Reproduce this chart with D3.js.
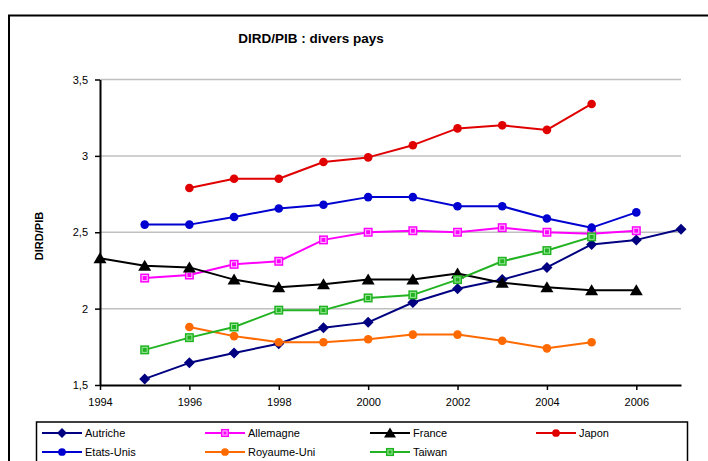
<!DOCTYPE html>
<html>
<head>
<meta charset="utf-8">
<script src="https://cdn.jsdelivr.net/npm/d3@7"></script>
<style>
  body { margin: 0; background: #fff; }
  text { font-family: "Liberation Sans", Arial, sans-serif; }
</style>
</head>
<body>
<div id="chart"></div>
<script>
// annees 1994 -> 2007, null = pas de valeur
var years = [1994, 1995, 1996, 1997, 1998, 1999, 2000, 2001, 2002, 2003, 2004, 2005, 2006, 2007];
var autriche   = [null, 1.54, 1.645, 1.71, 1.77, 1.875, 1.91, 2.04, 2.13, 2.19, 2.27, 2.42, 2.45, 2.52];
var allemagne  = [null, 2.20, 2.22, 2.29, 2.31, 2.45, 2.50, 2.51, 2.50, 2.53, 2.50, 2.49, 2.51, null];
var france     = [2.33, 2.28, 2.27, 2.19, 2.14, 2.16, 2.19, 2.19, 2.23, 2.17, 2.14, 2.12, 2.12, null];
var japon      = [null, null, 2.79, 2.85, 2.85, 2.96, 2.99, 3.07, 3.18, 3.20, 3.17, 3.34, null, null];
var etatsUnis  = [null, 2.55, 2.55, 2.60, 2.655, 2.68, 2.73, 2.73, 2.67, 2.67, 2.59, 2.53, 2.63, null];
var royaumeUni = [null, null, 1.88, 1.82, 1.78, 1.78, 1.80, 1.83, 1.83, 1.79, 1.74, 1.78, null, null];
var taiwan     = [null, 1.73, 1.81, 1.88, 1.99, 1.99, 2.07, 2.09, 2.19, 2.31, 2.38, 2.47, null, null];

var yTicks = [1.5, 2, 2.5, 3, 3.5];
var xTicks = [1994, 1996, 1998, 2000, 2002, 2004, 2006];

var series = [
  {name: "Autriche",    values: autriche,   color: "#000080", marker: "diamond"},
  {name: "Allemagne",   values: allemagne,  color: "#ff00ff", marker: "square", light: "#ffc8ff"},
  {name: "France",      values: france,     color: "#000000", marker: "triangle"},
  {name: "Japon",       values: japon,      color: "#e00000", marker: "circle"},
  {name: "Etats-Unis",  values: etatsUnis,  color: "#0000d0", marker: "circle"},
  {name: "Royaume-Uni", values: royaumeUni, color: "#ff6a00", marker: "circle"},
  {name: "Taiwan",      values: taiwan,     color: "#22b322", marker: "square", light: "#9be89b"}
];

var width = 708, height = 461;

var x = d3.scaleLinear().domain([1994, 2007]).range([100, 681]);
var y = d3.scaleLinear().domain([1.5, 3.5]).range([385, 79.5]);

var svg = d3.select("#chart").append("svg")
    .attr("width", width)
    .attr("height", height);

// cadre exterieur
svg.append("rect")
    .attr("x", 9).attr("y", 15.5)
    .attr("width", 740).attr("height", 500)
    .attr("fill", "none")
    .attr("stroke", "#000")
    .attr("stroke-width", 2);

svg.append("text")
    .attr("x", 311).attr("y", 43)
    .attr("text-anchor", "middle")
    .attr("font-size", 13.5)
    .attr("font-weight", "bold")
    .text("DIRD/PIB : divers pays");

// grille
svg.append("g").selectAll("line")
    .data(yTicks.filter(function(d) { return d > 1.5; }))
    .enter().append("line")
    .attr("x1", x(1994)).attr("x2", x(2007))
    .attr("y1", function(d) { return y(d); })
    .attr("y2", function(d) { return y(d); })
    .attr("stroke", "#c0c0c0")
    .attr("stroke-width", 1.5);

var yAxis = d3.axisLeft(y)
    .tickValues(yTicks)
    .tickSize(5)
    .tickSizeOuter(0)
    .tickPadding(7)
    .tickFormat(function(d) { return String(d).replace(".", ","); });

var xAxis = d3.axisBottom(x)
    .tickValues(xTicks)
    .tickSize(5)
    .tickSizeOuter(0)
    .tickPadding(8)
    .tickFormat(d3.format("d"));

var gy = svg.append("g")
    .attr("transform", "translate(" + x(1994) + ",0)")
    .call(yAxis);
var gx = svg.append("g")
    .attr("transform", "translate(0," + y(1.5) + ")")
    .call(xAxis);

[gx, gy].forEach(function(g) {
  g.select(".domain").attr("stroke", "#000").attr("stroke-width", 2);
  g.selectAll(".tick line").attr("stroke", "#000").attr("stroke-width", 1.5);
  g.selectAll(".tick text")
      .attr("font-family", "Liberation Sans, Arial, sans-serif")
      .attr("font-size", 11)
      .attr("fill", "#000");
});

svg.append("text")
    .attr("transform", "translate(43,236) rotate(-90)")
    .attr("text-anchor", "middle")
    .attr("font-size", 11)
    .attr("font-weight", "bold")
    .text("DIRD/PIB");

function drawMarker(g, s, cx, cy, scale) {
  var k = scale || 1;
  if (s.marker == "diamond") {
    var r = 5.5 * k;
    g.append("path")
        .attr("d", "M" + cx + "," + (cy - r) + "L" + (cx + r) + "," + cy + "L" + cx + "," + (cy + r) + "L" + (cx - r) + "," + cy + "Z")
        .attr("fill", s.color);
  } else if (s.marker == "circle") {
    g.append("circle")
        .attr("cx", cx).attr("cy", cy).attr("r", 4.3 * k)
        .attr("fill", s.color);
  } else if (s.marker == "triangle") {
    var h = 5 * k;
    g.append("path")
        .attr("d", "M" + cx + "," + (cy - h - 1) + "L" + (cx + h + 1.5) + "," + (cy + h) + "L" + (cx - h - 1.5) + "," + (cy + h) + "Z")
        .attr("fill", s.color);
  } else if (s.marker == "square") {
    var a = 4.5 * k;
    g.append("rect")
        .attr("x", cx - a).attr("y", cy - a)
        .attr("width", 2 * a).attr("height", 2 * a)
        .attr("fill", s.color);
    g.append("rect")
        .attr("x", cx - a + 2).attr("y", cy - a + 2)
        .attr("width", 2 * a - 4).attr("height", 2 * a - 4)
        .attr("fill", "none")
        .attr("stroke", s.light)
        .attr("stroke-width", 1);
  }
}

var line = d3.line()
    .defined(function(d) { return d.v != null; })
    .x(function(d) { return x(d.year); })
    .y(function(d) { return y(d.v); });

series.forEach(function(s) {
  var pts = years.map(function(yr, i) { return {year: yr, v: s.values[i]}; });
  var g = svg.append("g");
  g.append("path")
      .datum(pts)
      .attr("fill", "none")
      .attr("stroke", s.color)
      .attr("stroke-width", 2)
      .attr("stroke-linejoin", "round")
      .attr("d", line);
  pts.filter(function(d) { return d.v != null; }).forEach(function(d) {
    drawMarker(g, s, x(d.year), y(d.v));
  });
});

// legende
var legend = svg.append("g");
legend.append("rect")
    .attr("x", 36.5).attr("y", 422)
    .attr("width", 651).attr("height", 60)
    .attr("fill", "#fff")
    .attr("stroke", "#000")
    .attr("stroke-width", 1.5);

var colX = [42, 205, 370, 536];
var rowY = [433, 452];
series.forEach(function(s, i) {
  var lx = colX[i % 4], ly = rowY[Math.floor(i / 4)];
  var item = legend.append("g");
  item.append("line")
      .attr("x1", lx).attr("x2", lx + 40)
      .attr("y1", ly).attr("y2", ly)
      .attr("stroke", s.color)
      .attr("stroke-width", 2);
  drawMarker(item, s, lx + 20, ly, 0.9);
  item.append("text")
      .attr("x", lx + 43).attr("y", ly + 4)
      .attr("font-size", 11)
      .text(s.name);
});
</script>
</body>
</html>
